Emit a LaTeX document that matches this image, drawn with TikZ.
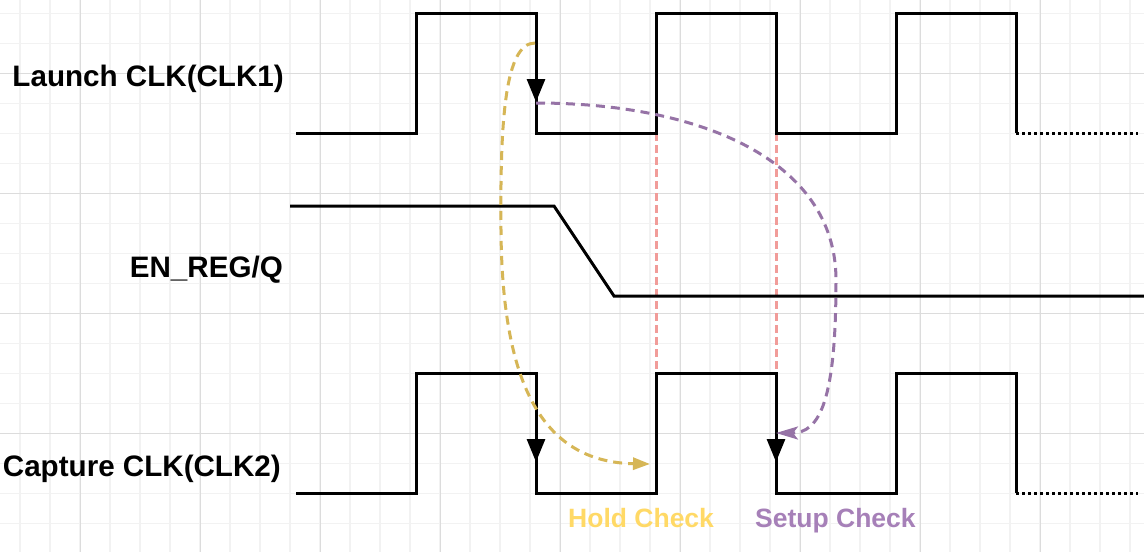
\documentclass[tikz,border=0pt]{standalone}
\usepackage{fontspec}
\setmainfont{Liberation Sans}
\usetikzlibrary{arrows.meta}

\definecolor{gridminor}{HTML}{F2F2F2}
\definecolor{gridmajor}{HTML}{DCDCDC}
\definecolor{holdline}{HTML}{D6B656}
\definecolor{holdtext}{HTML}{FFD966}
\definecolor{setupline}{HTML}{9673A6}
\definecolor{setuptext}{HTML}{A680B8}
\definecolor{guidered}{HTML}{F19C99}

\begin{document}
\begin{tikzpicture}[x=1pt, y=-1pt,
    wave/.style={line width=3pt, line join=miter},
    edgearrow/.style={line width=3pt, -{Triangle[length=23pt, width=18pt]}},
    guide/.style={guidered, line width=3pt, dash pattern=on 8pt off 4pt},
    holdpath/.style={holdline, line width=3pt, dash pattern=on 9pt off 6pt, -{Triangle[length=17pt, width=12pt]}},
    setuppath/.style={setupline, line width=3pt, dash pattern=on 9pt off 6pt, -{Stealth[length=22pt, width=13pt, inset=5pt]}},
    sig/.style={inner sep=0pt, font=\bfseries\fontsize{29.6}{36}\selectfont},
    check/.style={inner sep=0pt, font=\bfseries\fontsize{26.5}{32}\selectfont}]
    \useasboundingbox (0,0) rectangle (1144,552);
    \fill[white] (0,0) rectangle (1144,552);
    \foreach \x in {20,50,...,1130} \draw[gridminor, line width=1.2pt] (\x,0) -- (\x,552);
    \foreach \y in {13.3,43.3,...,550} \draw[gridminor, line width=1.2pt] (0,\y) -- (1144,\y);
    \foreach \x in {80,200,...,1040} \draw[gridmajor, line width=1pt] (\x,0) -- (\x,552);
    \foreach \y in {73.3,193.3,313.3,433.3} \draw[gridmajor, line width=1pt] (0,\y) -- (1144,\y);

    \node[sig, anchor=base east] (launch) at (284,86) {Launch CLK(CLK1)};
    \node[sig, anchor=base east] (enq) at (283,277) {EN\_REG/Q};
    \node[sig, anchor=base east] (capture) at (281,476) {Capture CLK(CLK2)};
    \node[check, holdtext, anchor=base west] (hold) at (568,527) {Hold Check};
    \node[check, setuptext, anchor=base west] (setup) at (755,527) {Setup Check};

    \coordinate (lfall) at (536,13);
    \coordinate (lmark) at (536,102);
    \coordinate (lhold) at (535,43);
    \coordinate (lsetup) at (536,103);
    \coordinate (cfall1) at (536,373);
    \coordinate (cfall2) at (776,373);
    \coordinate (cmark1) at (536,462);
    \coordinate (cmark2) at (776,462);
    \coordinate (choldend) at (650,464);
    \coordinate (csetupend) at (776,433);

    \draw[guide] (656,133) -- (656,373);
    \draw[guide] (776,133) -- (776,373);

    \draw[wave] (296,133) -- (416,133) -- (416,13) -- (536,13) -- (536,133) -- (656,133) -- (656,13) -- (776,13) -- (776,133) -- (896,133) -- (896,13) -- (1016,13) -- (1016,133);
    \draw[line width=3pt, dash pattern=on 3pt off 3pt] (1016,133) -- (1138,133);
    \draw[wave] (290,206) -- (554,206) -- (614,296) -- (1144,296);
    \draw[wave] (296,493) -- (416,493) -- (416,373) -- (536,373) -- (536,493) -- (656,493) -- (656,373) -- (776,373) -- (776,493) -- (896,493) -- (896,373) -- (1016,373) -- (1016,493);
    \draw[line width=3pt, dash pattern=on 3pt off 3pt] (1016,493) -- (1138,493);

    \draw[edgearrow] (lfall) -- (lmark);
    \draw[edgearrow] (cfall1) -- (cmark1);
    \draw[edgearrow] (cfall2) -- (cmark2);

    \draw[holdpath] (lhold) .. controls (505,43) and (500,120) .. (501,230) .. controls (502,380) and (540,462) .. (choldend);
    \draw[setuppath] (lsetup) .. controls (700,103) and (836,160) .. (836,280) .. controls (836,400) and (820,433) .. (csetupend);
\end{tikzpicture}
\end{document}
